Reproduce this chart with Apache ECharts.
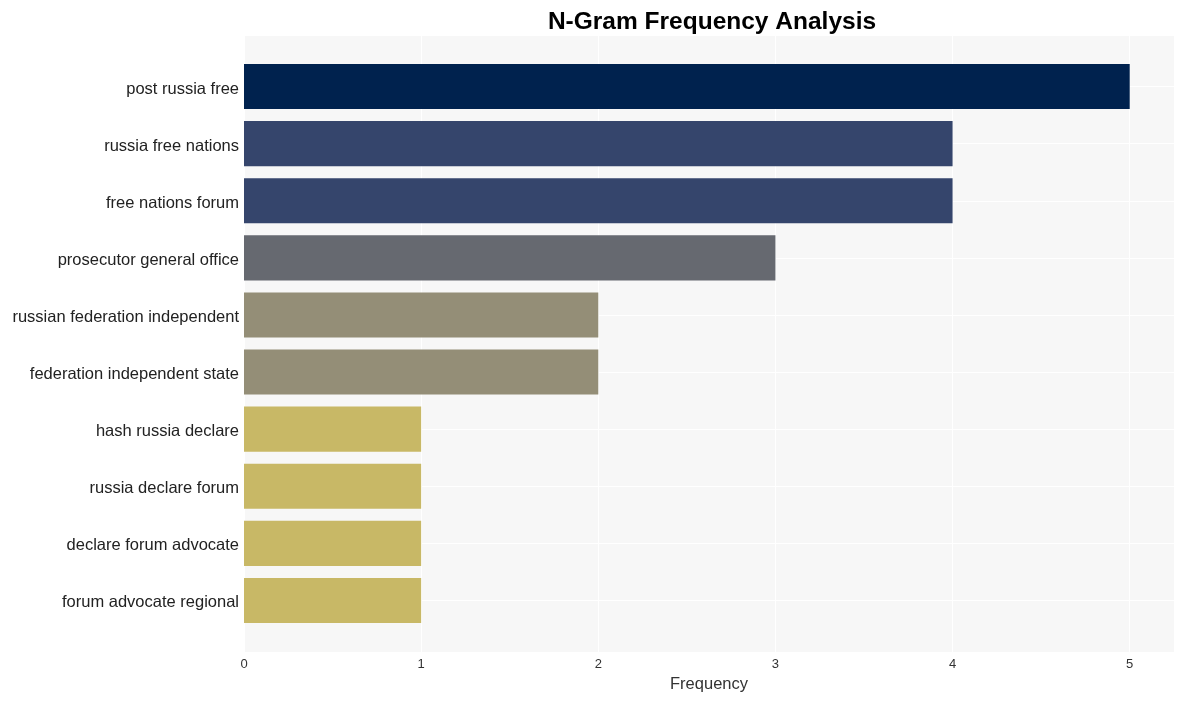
<!DOCTYPE html>
<html>
<head>
<meta charset="utf-8">
<script src="https://cdn.jsdelivr.net/npm/echarts@6/dist/echarts.min.js"></script>
<style>html,body{margin:0;padding:0;background:#fff;}#c{width:1183px;height:701px;}</style>
</head>
<body>
<div id="c"></div>
<script>
const categories = ["post russia free","russia free nations","free nations forum","prosecutor general office","russian federation independent","federation independent state","hash russia declare","russia declare forum","declare forum advocate","forum advocate regional"];
const values = [5,4,4,3,2,2,1,1,1,1];
const barColors = ["#00224e","#35456c","#35456c","#666970","#948e77","#948e77","#c8b866","#c8b866","#c8b866","#c8b866"];
const xTicks = [0,1,2,3,4,5];

const font = "'Liberation Sans', Arial, sans-serif";
const chart = echarts.init(document.getElementById('c'));
chart.setOption({
  animation: false,
  title: {text: "N-Gram Frequency Analysis", left: 707, textAlign: 'center', top: 5,
    textStyle: {fontFamily: font, fontSize: 24.5, fontWeight: 'bold', color: '#000'}},
  grid: [
    {left: 244, right: 9, top: 36, bottom: 49, show: true, backgroundColor: '#f7f7f7', borderWidth: 0},
    {left: 244, right: 9, top: 58, bottom: 72}
  ],
  xAxis: [
    {gridIndex: 0, type: 'value', min: 0, max: 5.25, interval: 1,
      axisLine: {show: false}, axisTick: {show: false},
      axisLabel: {showMaxLabel: false, fontFamily: font, fontSize: 13, color: '#333', margin: 6,
        formatter: v => xTicks.includes(v) ? String(v) : ''},
      splitLine: {show: true, lineStyle: {color: '#ffffff', width: 1}},
      name: 'Frequency', nameLocation: 'middle', nameGap: 24,
      nameTextStyle: {fontFamily: font, fontSize: 16.5, color: '#333'}},
    {gridIndex: 1, type: 'value', min: 0, max: 5.25, show: false}
  ],
  yAxis: [
    {gridIndex: 0, type: 'value', show: false},
    {gridIndex: 1, type: 'category', inverse: true, data: categories,
      axisLine: {show: false}, axisTick: {show: false, alignWithLabel: true},
      axisLabel: {margin: 5, formatter: v => '{a|' + v + '}',
        rich: {a: {fontFamily: font, fontSize: 16.5, color: '#222', padding: [5, 0, 0, 0]}}},
      splitLine: {show: true, alignWithLabel: true, lineStyle: {color: '#ffffff', width: 1}}}
  ],
  series: [{
    type: 'bar', xAxisIndex: 1, yAxisIndex: 1, barWidth: '79%',
    data: values.map((v, i) => ({value: v, itemStyle: {color: barColors[i]}}))
  }]
});
</script>
</body>
</html>
